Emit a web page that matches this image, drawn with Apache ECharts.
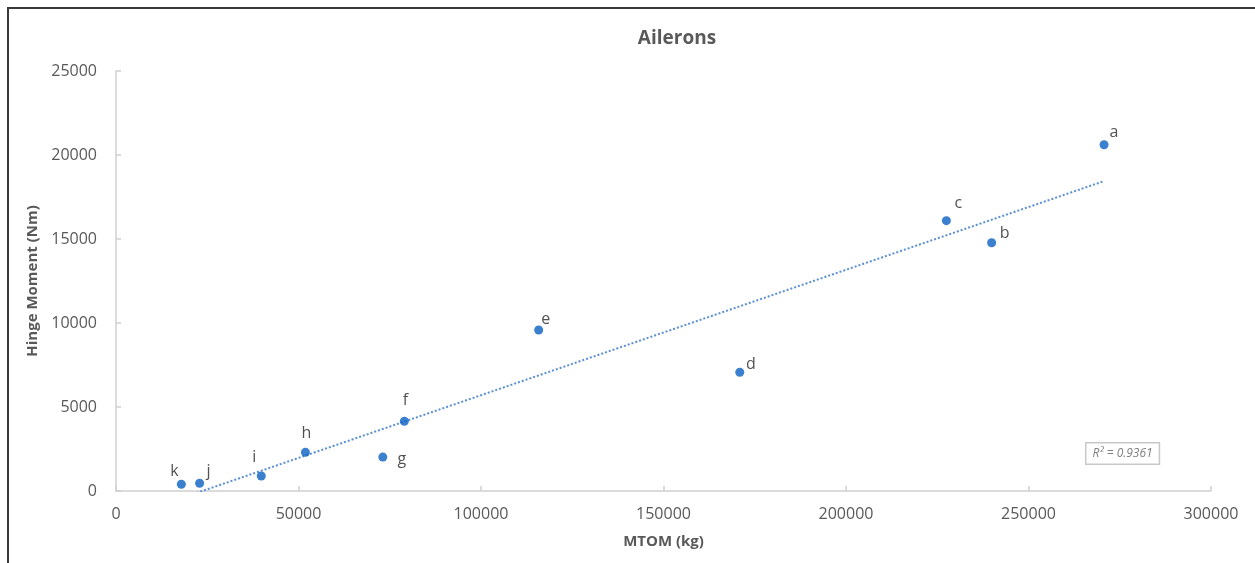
<!DOCTYPE html>
<html>
<head>
<meta charset="utf-8">
<script src="https://cdn.jsdelivr.net/npm/echarts@6/dist/echarts.min.js"></script>
<style>
  html, body { margin: 0; padding: 0; background: #fff; }
  #wrap { position: relative; width: 1255px; height: 563px; overflow: hidden; }
  #chart { position: absolute; left: 0; top: 0; width: 1255px; height: 563px; }
  #frame { position: absolute; left: 7px; top: 7px; width: 1260px; height: 570px;
           border-left: 2px solid #3a3a3a; border-top: 2px solid #3a3a3a; pointer-events: none; }
</style>
</head>
<body>
<div id="wrap">
  <div id="chart"></div>
  <div id="frame"></div>
</div>
<script>
// ---- data ----
const pointNames = ['a', 'b', 'c', 'd', 'e', 'f', 'g', 'h', 'i', 'j', 'k'];
const mtom = [270700, 239900, 227500, 170900, 115800, 79000, 73100, 51900, 39800, 22900, 17900];
const hingeMoment = [20610, 14780, 16090, 7070, 9580, 4150, 2020, 2300, 890, 460, 400];
const xTicks = [0, 50000, 100000, 150000, 200000, 250000, 300000];
const yTicks = [0, 5000, 10000, 15000, 20000, 25000];
const r2Text = 'R² = 0.9361';

// ---- label placement (style only) ----
const labelOffsets = {
  a: [10, -12], b: [13, -9], c: [12, -17], d: [11, -8], e: [7, -11],
  f: [1, -21], g: [19, 2], h: [1, -19], i: [-7, -19], j: [9, -12], k: [-7, -13]
};

// linear least-squares trendline computed from the data
const n = mtom.length;
const mx = mtom.reduce((s, v) => s + v, 0) / n;
const my = hingeMoment.reduce((s, v) => s + v, 0) / n;
let sxy = 0, sxx = 0;
for (let i = 0; i < n; i++) { sxy += (mtom[i] - mx) * (hingeMoment[i] - my); sxx += (mtom[i] - mx) ** 2; }
const slope = sxy / sxx;
const intercept = my - slope * mx;
const xMin = Math.min(...mtom), xMax = Math.max(...mtom);
const trend = [[xMin, intercept + slope * xMin], [xMax, intercept + slope * xMax]];

const FONT = '"Open Sans", "DejaVu Sans", sans-serif';
const GREY = '#595959';

const scatterData = pointNames.map((nm, i) => ({
  name: nm,
  value: [mtom[i], hingeMoment[i]],
  label: {
    show: true, position: 'inside', formatter: nm,
    offset: labelOffsets[nm],
    color: '#262626', fontSize: 16, fontFamily: FONT
  }
}));

const chart = echarts.init(document.getElementById('chart'), null, { renderer: 'canvas' });
chart.setOption({
  animation: false,
  backgroundColor: '#ffffff',
  title: {
    text: 'Ailerons', left: 672, top: 24, textAlign: 'center',
    textStyle: { fontFamily: FONT, fontSize: 19, fontWeight: 'bold', color: GREY }
  },
  grid: { left: 116, right: 44, top: 71, bottom: 72, containLabel: false },
  xAxis: {
    type: 'value', min: xTicks[0], max: xTicks[xTicks.length - 1],
    interval: xTicks[1] - xTicks[0],
    name: 'MTOM (kg)', nameLocation: 'middle', nameGap: 43,
    nameTextStyle: { fontFamily: FONT, fontSize: 15, fontWeight: 'bold', color: GREY },
    axisLine: { show: true, lineStyle: { color: '#d0d0d0', width: 1.5 } },
    axisTick: { show: true, inside: true, length: 5, lineStyle: { color: '#d0d0d0', width: 1.5 } },
    axisLabel: { margin: 15, fontFamily: FONT, fontSize: 16, color: GREY, formatter: v => String(v) },
    splitLine: { show: false }
  },
  yAxis: {
    type: 'value', min: yTicks[0], max: yTicks[yTicks.length - 1],
    interval: yTicks[1] - yTicks[0],
    name: 'Hinge Moment (Nm)', nameLocation: 'middle', nameGap: 74,
    nameTextStyle: { fontFamily: FONT, fontSize: 15, fontWeight: 'bold', color: GREY },
    axisLine: { show: true, lineStyle: { color: '#d0d0d0', width: 1.5 } },
    axisTick: { show: true, inside: true, length: 5, lineStyle: { color: '#d0d0d0', width: 1.5 } },
    axisLabel: { margin: 19, fontFamily: FONT, fontSize: 16, color: GREY, formatter: v => String(v) },
    splitLine: { show: false }
  },
  series: [
    {
      type: 'line', data: trend, symbol: 'none', clip: true, z: 1,
      lineStyle: { color: '#5b8fd6', width: 2, type: [2, 2] }
    },
    {
      type: 'scatter', data: scatterData, symbolSize: 9, z: 3,
      itemStyle: { color: '#0a60c2' }
    }
  ],
  graphic: [{
    type: 'text', left: 1085, top: 442,
    style: {
      text: r2Text, fontFamily: FONT, fontSize: 12, fontStyle: 'italic', fill: '#7f7f7f',
      backgroundColor: '#fff', borderColor: '#c8c8c8', borderWidth: 1.5,
      padding: [4, 6, 4, 6]
    }
  }]
});
</script>
</body>
</html>
